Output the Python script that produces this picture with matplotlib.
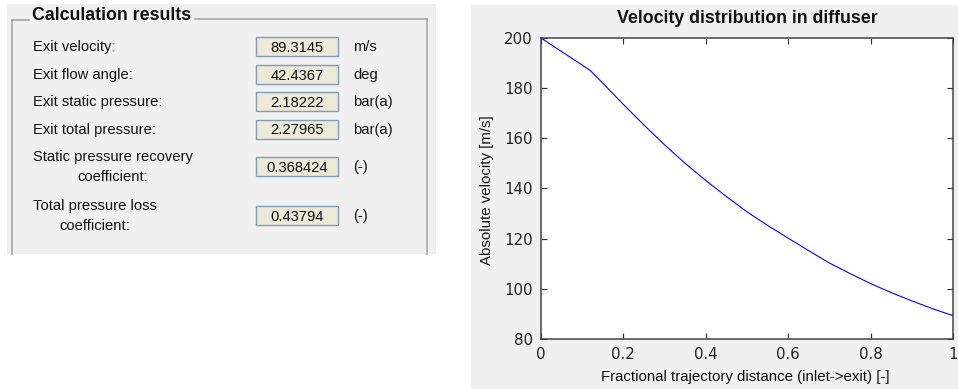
import matplotlib
matplotlib.use("Agg")
import matplotlib.pyplot as plt
from matplotlib.patches import Rectangle

plt.rcParams['font.family'] = ['Liberation Sans', 'DejaVu Sans']

# Velocity along the diffuser trajectory
distance = [0.0, 0.05, 0.10, 0.12, 0.15, 0.20, 0.25, 0.30, 0.35, 0.40, 0.45,
            0.50, 0.55, 0.60, 0.65, 0.70, 0.75, 0.80, 0.85, 0.90, 0.95, 1.0]
velocity = [200.0, 194.6, 189.2, 187.0, 182.0, 173.5, 165.3, 157.4, 150.0,
            143.2, 136.8, 130.7, 125.3, 120.2, 115.2, 110.3, 106.1, 102.1,
            98.5, 95.2, 92.1, 89.3145]

# Calculation results panel
result_labels = ["Exit velocity:", "Exit flow angle:", "Exit static pressure:",
                 "Exit total pressure:", "Static pressure recovery\ncoefficient:",
                 "Total pressure loss\ncoefficient:"]
result_values = ["89.3145", "42.4367", "2.18222", "2.27965", "0.368424", "0.43794"]
result_units = ["m/s", "deg", "bar(a)", "bar(a)", "(-)", "(-)"]

x_ticks = [0, 0.2, 0.4, 0.6, 0.8, 1.0]
x_tick_labels = ["0", "0.2", "0.4", "0.6", "0.8", "1"]
y_ticks = [80, 100, 120, 140, 160, 180, 200]

W, H = 958, 389
fig = plt.figure(figsize=(W / 100, H / 100), dpi=100)
fig.patch.set_facecolor("white")

# Pixel-space canvas for the GUI panels
ui = fig.add_axes([0, 0, 1, 1], zorder=0)
ui.set_xlim(0, W)
ui.set_ylim(H, 0)
ui.axis("off")

panel_gray = "#f0f0f0"
ui.add_patch(Rectangle((7, 4), 429, 250, facecolor=panel_gray, edgecolor="none"))
ui.add_patch(Rectangle((471, 5), 487, 384, facecolor=panel_gray, edgecolor="none"))

# Group box frame (open at the bottom), broken by the title
frame_c = "#a0a0a0"
ui.plot([12, 12], [20, 254], color=frame_c, lw=1.1)
ui.plot([12, 29], [20, 20], color=frame_c, lw=1.1)
ui.plot([195, 427], [19, 19], color=frame_c, lw=1.1)
ui.plot([427, 427], [19, 254], color=frame_c, lw=1.1)
ui.text(32, 15, "Calculation results", fontsize=12.8, fontweight="bold",
        ha="left", va="center", color="#111111")

label_y = [47, 75, 102, 130, 167, 216]
fs = 10.6
for lab, val, unit, yc in zip(result_labels, result_values, result_units, label_y):
    ui.text(33, yc, lab, fontsize=fs, ha="left", va="center",
            multialignment="center", color="#111111", linespacing=1.55)
    ui.add_patch(Rectangle((256, yc - 10), 82, 19, facecolor="#ece9d8",
                           edgecolor="#7f9db9", lw=1.0))
    ui.text(297, yc + 0.5, val, fontsize=fs, ha="center", va="center", color="#111111")
    ui.text(353, yc, unit, fontsize=fs, ha="left", va="center", color="#111111")

# Velocity plot
ax = fig.add_axes([541 / W, 1 - 339 / H, (953 - 541) / W, (339 - 38) / H], zorder=2)
ax.plot(distance, velocity, color="#0000ff", lw=0.8)
ax.set_xlim(0, 1)
ax.set_ylim(80, 200)
ax.set_xticks(x_ticks)
ax.set_xticklabels(x_tick_labels)
ax.set_yticks(y_ticks)
ax.tick_params(direction="in", top=True, right=True, length=4, width=0.8,
               labelsize=10.8, pad=6, colors="#333333", labelcolor="#222222")
for lbl in ax.get_xticklabels() + ax.get_yticklabels():
    lbl.set_fontfamily("DejaVu Sans")
for sp in ax.spines.values():
    sp.set_color("#444444")
    sp.set_linewidth(1.1)

ui.text(747, 18, "Velocity distribution in diffuser", fontsize=12.8,
        fontweight="bold", ha="center", va="center", color="#111111")
ui.text(745, 377, "Fractional trajectory distance (inlet->exit) [-]", fontsize=10.8,
        ha="center", va="center", color="#111111")
ui.text(487, 190, "Absolute velocity [m/s]", fontsize=10.8, rotation=90,
        ha="center", va="center", color="#111111")

fig.savefig("out.png", dpi=100, facecolor=fig.get_facecolor())
